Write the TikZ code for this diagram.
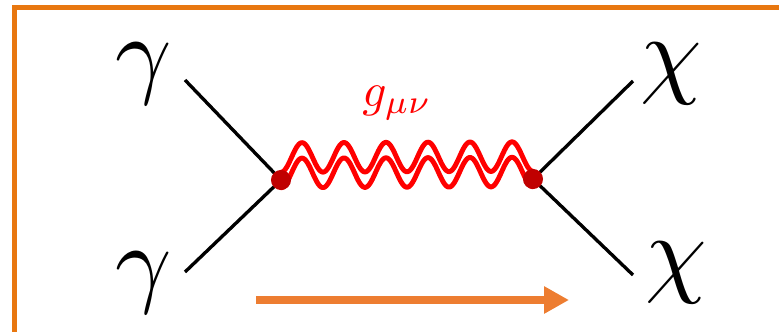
\documentclass[tikz,border=0pt]{standalone}
\usepackage{tikz}
\usetikzlibrary{arrows.meta,positioning,calc}
\definecolor{frameorange}{RGB}{232,119,16}
\definecolor{floworange}{RGB}{237,125,49}
\definecolor{vtxred}{RGB}{192,0,0}
\tikzset{
  particle/.style={inner sep=0pt, anchor=base, scale=5.6},
  leg/.style={draw=black, line width=1.9pt},
  vtxdot/.style={circle, fill=vtxred, inner sep=0pt, minimum size=11.4pt},
  graviton/.style={draw=red, line width=2.8pt, line join=round, line cap=round},
  flowarrow/.style={-{Triangle[length=14.2pt,width=14.7pt]},
                    draw=floworange, line width=5.1pt},
}

\begin{document}
\begin{tikzpicture}[
    x=0.02cm,
    y=-0.02cm,
    lbl/.style={inner sep=0pt, anchor=base, scale=2.7, text=red},
  ]
    \useasboundingbox (0,0) rectangle (779,332);

    % Orange frame, open to the right and bottom
    \draw[frameorange, line width=2.8pt] (779,7.5) -- (14.5,7.5) -- (14.5,332);

    % Incoming photons (left) and outgoing chi (right)
    \node[particle] (gamma_top) at (143.5,85.5) {$\gamma$};
    \node[particle] (gamma_bot) at (143.5,294.5) {$\gamma$};
    \node[particle] (chi_top) at (671,85.5) {$\chi$};
    \node[particle] (chi_bot) at (676,284.5) {$\chi$};

    % Vertices and leg ends
    \coordinate (vtx_left) at (281,180);
    \coordinate (vtx_right) at (533,179);
    \coordinate (leg_tl) at (185,80);
    \coordinate (leg_bl) at (185,272);
    \coordinate (leg_tr) at (633,81);
    \coordinate (leg_br) at (633,275);

    % External legs
    \draw[leg] (leg_tl) -- (vtx_left);
    \draw[leg] (leg_bl) -- (vtx_left);
    \draw[leg] (vtx_right) -- (leg_tr);
    \draw[leg] (vtx_right) -- (leg_br);

    % Graviton propagator: two wavy lines, one above the other
    \foreach \shift in {-4.4pt,4.4pt} {
      \draw[graviton] let \p1=(vtx_left), \p2=(vtx_right) in
        plot[domain=0:1, samples=241, variable=\t]
        ({\x1+(\x2-\x1)*\t}, {\y1+(\y2-\y1)*\t+\shift+8.4pt*(1-cos(2160*\t))});
    }
    \node[lbl] (graviton_lbl) at (397,106) {$g_{\mu\nu}$};

    % Vertex dots on top
    \node[vtxdot] (dot_left) at (vtx_left) {};
    \node[vtxdot] (dot_right) at (vtx_right) {};

    % Direction arrow
    \coordinate (flow_start) at (256,300);
    \coordinate (flow_end) at (569,300);
    \draw[flowarrow] (flow_start) -- (flow_end);
  \end{tikzpicture}
\end{document}
